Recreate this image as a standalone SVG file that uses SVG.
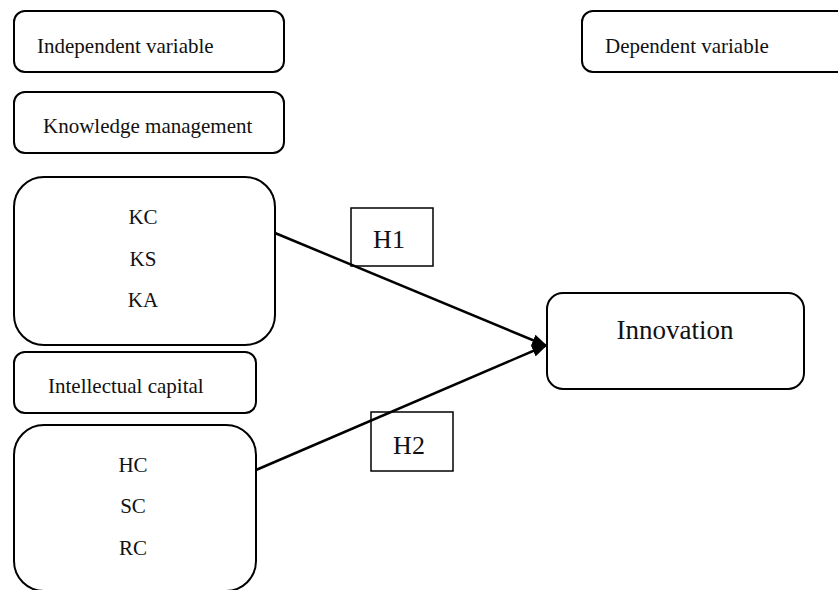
<svg xmlns="http://www.w3.org/2000/svg" width="838" height="590" viewBox="0 0 838 590">
<style>
.box{fill:#fff;stroke:#000;stroke-width:2}
.lbl{fill:none;stroke:#000;stroke-width:1.5}
.t{fill:#111}
.s{font-size:21px}
.m{font-size:21px}
.c{text-anchor:middle}
.conn{stroke:#000;stroke-width:2.5;fill:none}
</style>
<defs>
<marker id="ah" markerWidth="16" markerHeight="12" refX="15" refY="6" orient="auto" markerUnits="userSpaceOnUse">
<path d="M0,0 L16,6 L0,12 Z" fill="#000"/>
</marker>
</defs>
<g font-family="'Liberation Serif', 'Times New Roman', 'DejaVu Serif', serif">
<g id="independent">
<rect class="box" x="14" y="11" width="270" height="61" rx="11"/>
<text class="t s" x="37" y="53">Independent variable</text>
</g>
<g id="dependent">
<rect class="box" x="582" y="11" width="280" height="61" rx="11"/>
<text class="t s" x="605" y="53">Dependent variable</text>
</g>
<g id="km">
<rect class="box" x="14" y="92" width="270" height="61" rx="11"/>
<text class="t s" x="43" y="133">Knowledge management</text>
</g>
<g id="kgroup">
<rect class="box" x="14" y="177" width="261" height="168" rx="30"/>
<text class="t m c" x="143" y="224">KC</text>
<text class="t m c" x="143" y="266">KS</text>
<text class="t m c" x="143" y="307">KA</text>
</g>
<g id="ic">
<rect class="box" x="14" y="352" width="242" height="61" rx="11"/>
<text class="t s" x="48" y="393">Intellectual capital</text>
</g>
<g id="cgroup">
<rect class="box" x="14" y="425" width="242" height="166" rx="30"/>
<text class="t m c" x="133" y="472">HC</text>
<text class="t m c" x="133" y="513">SC</text>
<text class="t m c" x="133" y="555">RC</text>
</g>
<g id="innovation">
<rect class="box" x="547" y="293" width="257" height="96" rx="16"/>
<text class="t c" x="675" y="339" font-size="27">Innovation</text>
</g>
<g id="connectors">
<line class="conn" x1="275" y1="233" x2="547" y2="346" marker-end="url(#ah)"/>
<line class="conn" x1="256" y1="470" x2="547" y2="345" marker-end="url(#ah)"/>
</g>
<g id="h1">
<rect class="lbl" x="351" y="208" width="82" height="58"/>
<text class="t c" x="389" y="248" font-size="26">H1</text>
</g>
<g id="h2">
<rect class="lbl" x="371" y="412" width="82" height="59"/>
<text class="t c" x="409" y="454" font-size="26">H2</text>
</g>
</g>
</svg>
